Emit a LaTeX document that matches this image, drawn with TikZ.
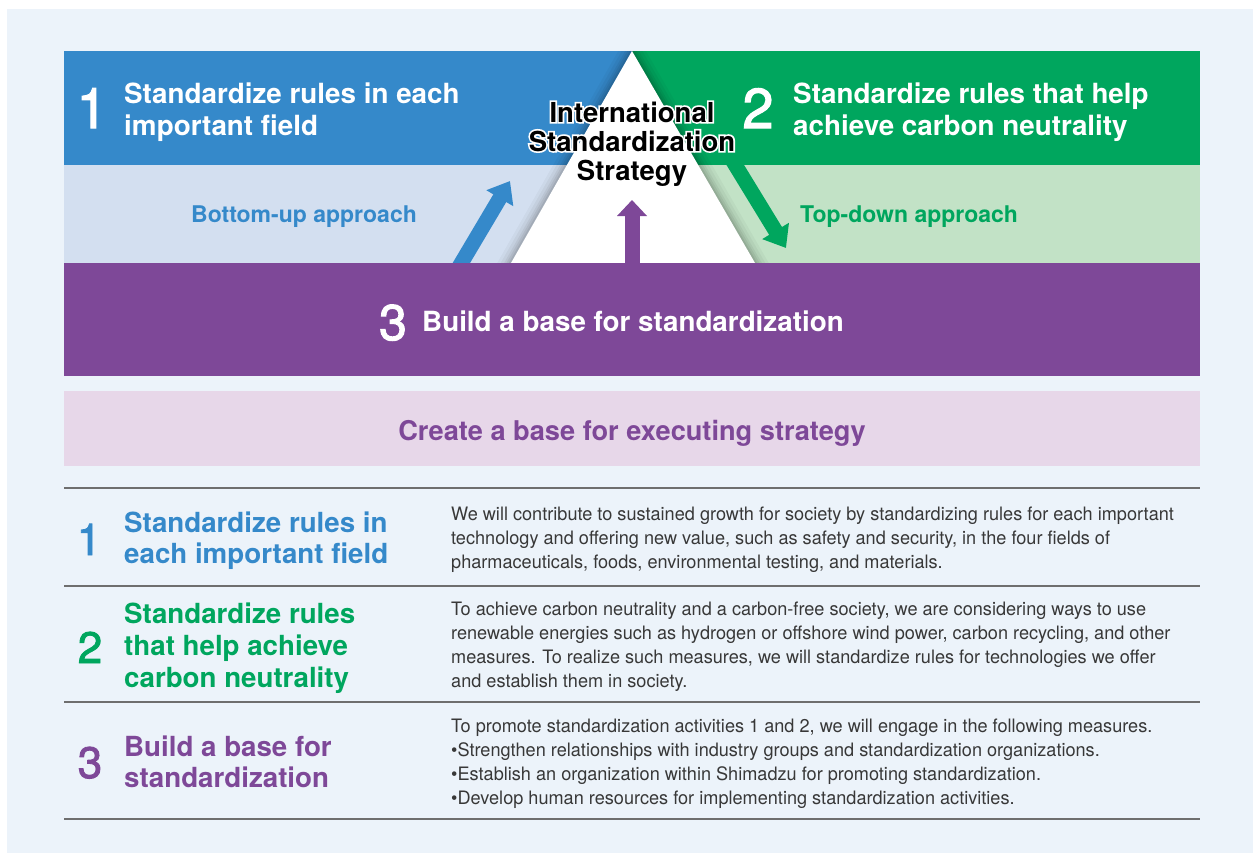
\documentclass[tikz,border=0pt]{standalone}
\usepackage{fontspec}
\setmainfont{TeX Gyre Heros}
\newfontfamily\descfont[FakeStretch=0.98]{TeX Gyre Heros}
\newfontfamily\haloFont[FakeBold=12]{TeX Gyre Heros Bold}
\newfontfamily\numFont[FakeBold=2]{TeX Gyre Heros}
\usetikzlibrary{arrows.meta}
\definecolor{panelbg}{HTML}{ECF3FA}
\definecolor{cblue}{HTML}{3589CA}
\definecolor{clblue}{HTML}{D3DFF0}
\definecolor{cgreen}{HTML}{00A65E}
\definecolor{clgreen}{HTML}{C2E2C6}
\definecolor{cpurple}{HTML}{7E4898}
\definecolor{cpink}{HTML}{E7D7E9}
\definecolor{ctext}{HTML}{383838}
\definecolor{cline}{HTML}{6E6E6E}
\newcommand\txtoutline[1]{\makebox[0pt][l]{\haloFont\fontsize{27.5}{29}\selectfont\textcolor{white}{#1}}#1}
\tikzset{
  bignum/.style={anchor=base, inner sep=0pt, font=\numFont\fontsize{56}{56}\selectfont, text=white},
  boxhead/.style={anchor=base west, inner sep=0pt, font=\fontsize{27.8}{32}\selectfont\bfseries, text=white},
  approach/.style={anchor=base, inner sep=0pt, font=\fontsize{23}{26}\selectfont\bfseries},
  tritext/.style={anchor=base, inner sep=0pt, font=\fontsize{27.5}{29}\selectfont\bfseries, text=black},
  rownum/.style={anchor=base, inner sep=0pt, font=\numFont\fontsize{44}{44}\selectfont},
  rowhead/.style={anchor=base west, inner sep=0pt, font=\fontsize{27.7}{32}\selectfont\bfseries},
  desc/.style={anchor=base west, inner sep=0pt, font=\descfont\fontsize{18.5}{24}\selectfont, text=ctext},
  tline/.style={draw=cline, line width=1.8pt},
  fatarrow/.style={line width=15pt, -{Triangle[length=20pt, width=30pt]}},
}
\begin{document}
\begin{tikzpicture}[x=1pt, y=-1pt]
\useasboundingbox (0,0) rectangle (1253,854);
\fill[white] (0,0) rectangle (1253,854);
\fill[panelbg] (7,9) rectangle (1253,853);

% coloured bands
\fill[cblue] (64,51) rectangle (632,165);
\fill[cgreen] (632,51) rectangle (1200,165);
\fill[clblue] (64,165) rectangle (632,263);
\fill[clgreen] (632,165) rectangle (1200,263);

% soft shadow of the triangle
\begin{scope}
  \clip (64,51) rectangle (1200,263);
  \foreach \d/\o in {12/0.03,9/0.04,6/0.05,4/0.06,2/0.07}
    \fill[black, opacity=\o] (632,{51-2*\d}) -- ({511-1.15*\d},263) -- ({755+1.15*\d},263) -- cycle;
\end{scope}

% approach arrows
\coordinate (bt) at (456,272);
\coordinate (bh) at (510,181);
\draw[cblue, fatarrow] (bt) -- (bh);
\coordinate (gt) at (731,158);
\coordinate (gh) at (786,248);
\draw[cgreen, fatarrow] (gt) -- (gh);

% triangle
\fill[white] (632,51) -- (511,263) -- (755,263) -- cycle;

% purple arrow
\coordinate (pt) at (632,270);
\coordinate (ph) at (632,200);
\draw[cpurple, line width=15pt, -{Triangle[length=16pt, width=29pt]}] (pt) -- (ph);

% purple band
\fill[cpurple] (64,263) rectangle (1200,376);
% pink band
\fill[cpink] (64,391) rectangle (1200,466);

% top texts
\node[bignum] (n1) at (92,128) {1};
\node[boxhead] (h1a) at (124,103) {Standardize rules in each};
\node[boxhead] (h1b) at (124,135) {important field};
\node[bignum] (n2) at (758,128) {2};
\node[boxhead] (h2a) at (793,103) {Standardize rules that help};
\node[boxhead] (h2b) at (793,135) {achieve carbon neutrality};

\node[tritext] (t1) at (632,122) {\txtoutline{International}};
\node[tritext] (t2) at (632,151) {\txtoutline{Standardization}};
\node[tritext] (t3) at (632,180) {\txtoutline{Strategy}};

\node[approach, text=cblue] (bu) at (304,222) {Bottom-up approach};
\node[approach, text=cgreen, anchor=base west] (td) at (800,222) {Top-down approach};

\node[bignum, font=\numFont\fontsize{50}{50}\selectfont] (n3) at (393,340) {3};
\node[boxhead] (h3) at (422,331) {Build a base for standardization};

\node[anchor=base, inner sep=0pt, font=\fontsize{27.2}{32}\selectfont\bfseries, text=cpurple] (cb) at (632,440) {Create a base for executing strategy};

% table rules
\draw[tline] (64,488) -- (1200,488);
\draw[tline] (64,586) -- (1200,586);
\draw[tline] (64,702) -- (1200,702);
\draw[tline] (64,819) -- (1200,819);

% row 1
\node[rownum, text=cblue] (r1n) at (89,555) {1};
\node[rowhead, text=cblue] (r1a) at (124,532) {Standardize rules in};
\node[rowhead, text=cblue] (r1b) at (124,563) {each important field};
\node[desc] (r1l1) at (451,520) {We will contribute to sustained growth for society by standardizing rules for each important};
\node[desc] (r1l2) at (451,544) {technology and offering new value, such as safety and security, in the four fields of};
\node[desc] (r1l3) at (451,568) {pharmaceuticals, foods, environmental testing, and materials.};

% row 2
\node[rownum, text=cgreen] (r2n) at (90,663) {2};
\node[rowhead, text=cgreen] (r2a) at (124,623) {Standardize rules};
\node[rowhead, text=cgreen] (r2b) at (124,655) {that help achieve};
\node[rowhead, text=cgreen] (r2c) at (124,687) {carbon neutrality};
\node[desc] (r2l1) at (451,615) {To achieve carbon neutrality and a carbon-free society, we are considering ways to use};
\node[desc] (r2l2) at (451,639) {renewable energies such as hydrogen or offshore wind power, carbon recycling, and other};
\node[desc] (r2l3) at (451,663) {measures. To realize such measures, we will standardize rules for technologies we offer};
\node[desc] (r2l4) at (451,687) {and establish them in society.};

% row 3
\node[rownum, text=cpurple] (r3n) at (90,778) {3};
\node[rowhead, text=cpurple] (r3a) at (124,756) {Build a base for};
\node[rowhead, text=cpurple] (r3b) at (124,787) {standardization};
\node[desc] (r3l1) at (451,732) {To promote standardization activities 1 and 2, we will engage in the following measures.};
\node[desc] (r3l2) at (451,756) {\textbullet Strengthen relationships with industry groups and standardization organizations.};
\node[desc] (r3l3) at (451,780) {\textbullet Establish an organization within Shimadzu for promoting standardization.};
\node[desc] (r3l4) at (451,804) {\textbullet Develop human resources for implementing standardization activities.};
\end{tikzpicture}
\end{document}
